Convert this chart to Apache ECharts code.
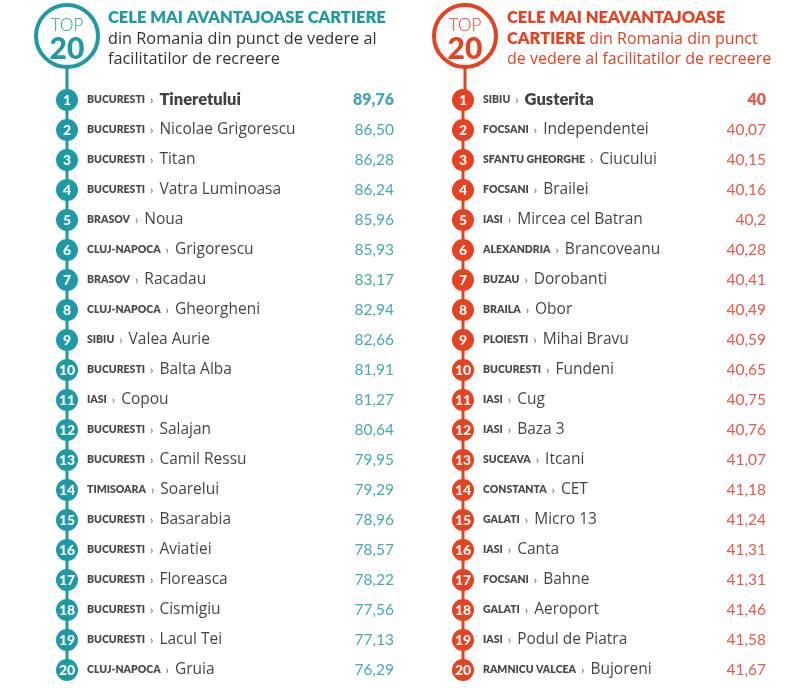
<!DOCTYPE html>
<html><head><meta charset="utf-8">
<script src="https://cdn.jsdelivr.net/npm/echarts@6/dist/echarts.min.js"></script>
<style>html,body{margin:0;padding:0;background:#fff}#c{width:800px;height:690px}</style>
</head><body><div id="c"></div>
<script>
const ranks = ['1','2','3','4','5','6','7','8','9','10','11','12','13','14','15','16','17','18','19','20'];

const leftCities = ['BUCURESTI','BUCURESTI','BUCURESTI','BUCURESTI','BRASOV','CLUJ-NAPOCA','BRASOV','CLUJ-NAPOCA','SIBIU','BUCURESTI','IASI','BUCURESTI','BUCURESTI','TIMISOARA','BUCURESTI','BUCURESTI','BUCURESTI','BUCURESTI','BUCURESTI','CLUJ-NAPOCA'];
const leftNames = ['Tineretului','Nicolae Grigorescu','Titan','Vatra Luminoasa','Noua','Grigorescu','Racadau','Gheorgheni','Valea Aurie','Balta Alba','Copou','Salajan','Camil Ressu','Soarelui','Basarabia','Aviatiei','Floreasca','Cismigiu','Lacul Tei','Gruia'];
const leftValues = [89.76,86.50,86.28,86.24,85.96,85.93,83.17,82.94,82.66,81.91,81.27,80.64,79.95,79.29,78.96,78.57,78.22,77.56,77.13,76.29];

const rightCities = ['SIBIU','FOCSANI','SFANTU GHEORGHE','FOCSANI','IASI','ALEXANDRIA','BUZAU','BRAILA','PLOIESTI','BUCURESTI','IASI','IASI','SUCEAVA','CONSTANTA','GALATI','IASI','FOCSANI','GALATI','IASI','RAMNICU VALCEA'];
const rightNames = ['Gusterita','Independentei','Ciucului','Brailei','Mircea cel Batran','Brancoveanu','Dorobanti','Obor','Mihai Bravu','Fundeni','Cug','Baza 3','Itcani','CET','Micro 13','Canta','Bahne','Aeroport','Podul de Piatra','Bujoreni'];
const rightValues = [40,40.07,40.15,40.16,40.2,40.28,40.41,40.49,40.59,40.65,40.75,40.76,41.07,41.18,41.24,41.31,41.31,41.46,41.58,41.67];

const TEAL = '#1d9aa6', RED = '#e8411f';
const TEALTXT = '#17939f', REDTXT = '#e2301c';
const FONT = 'Lato, "Open Sans", sans-serif';
const FONT2 = '"Open Sans", Lato, sans-serif';

function side(idx, color, txtColor, cities, names, values, fmt) {
  const circ = ranks.map((r, i) => [0, r]);
  const text = ranks.map((r, i) => ({ value: [0, r], city: cities[i], name: names[i], first: i === 0 }));
  const vals = ranks.map((r, i) => ({ value: [1, r], v: values[i], first: i === 0 }));
  return [
    { type: 'line', xAxisIndex: idx, yAxisIndex: idx, data: circ, symbol: 'none', silent: true,
      lineStyle: { color: color, width: 3 }, z: 1 },
    { type: 'scatter', xAxisIndex: idx, yAxisIndex: idx, data: circ, symbol: 'circle', symbolSize: 22,
      itemStyle: { color: color, opacity: 1 }, z: 3,
      label: { show: true, position: 'inside', color: '#fff', fontFamily: FONT, fontWeight: 900, fontSize: 14,
        formatter: p => p.value[1] } },
    { type: 'scatter', xAxisIndex: idx, yAxisIndex: idx, data: text, symbolSize: 0, z: 4,
      label: { show: true, position: 'right', distance: 20, fontFamily: FONT,
        formatter: p => '{c|' + p.data.city + '}{s|\u203A}' + (p.data.first ? '{nb|' : '{n|') + p.data.name + '}',
        rich: {
          c: { fontSize: 10.5, fontWeight: 800, color: '#1a1a1a', fontFamily: FONT },
          s: { fontSize: 12, color: '#333', fontFamily: FONT, padding: [0, 6, 0, 5] },
          n: { fontSize: 15.5, color: '#111', fontFamily: FONT2 },
          nb: { fontSize: 16.5, fontWeight: 800, color: '#111', fontFamily: FONT }
        } } },
    { type: 'scatter', xAxisIndex: idx, yAxisIndex: idx, data: vals, symbolSize: 0, z: 4,
      label: { show: true, position: 'left', distance: 0, fontFamily: FONT,
        formatter: p => (p.data.first ? '{b|' : '{r|') + fmt(p.data.v) + '}',
        rich: {
          r: { fontSize: 15.5, color: txtColor, fontFamily: FONT },
          b: { fontSize: 16, fontWeight: 800, color: txtColor, fontFamily: FONT }
        } } }
  ];
}

const chart = echarts.init(document.getElementById('c'));
const axisY = (gi) => ({ type: 'category', gridIndex: gi, data: ranks, inverse: true, boundaryGap: false, show: false });
const axisX = (gi) => ({ type: 'value', gridIndex: gi, min: 0, max: 1, show: false });

function header(cx, color) {
  return [
    { type: 'circle', shape: { cx: cx, cy: 36, r: 31 }, style: { fill: '#fff', stroke: color, lineWidth: 4 }, z: 10 },
    { type: 'line', shape: { x1: cx, y1: 68, x2: cx, y2: 90 }, style: { stroke: color, lineWidth: 3 }, z: 0 },
    { type: 'text', x: cx, y: 26, style: { text: 'TOP', fill: color, font: '300 17px ' + FONT, align: 'center', verticalAlign: 'middle' }, z: 11 },
    { type: 'text', x: cx, y: 49, style: { text: '20', fill: color, font: '900 30px ' + FONT, align: 'center', verticalAlign: 'middle' }, z: 11 }
  ];
}

chart.setOption({
  animation: false,
  grid: [
    { left: 67, top: 100, width: 327, height: 570 },
    { left: 463, top: 100, width: 303, height: 570 }
  ],
  xAxis: [axisX(0), axisX(1)],
  yAxis: [axisY(0), axisY(1)],
  series: [
    ...side(0, TEAL, TEALTXT, leftCities, leftNames, leftValues, v => v.toFixed(2).replace('.', ',')),
    ...side(1, RED, REDTXT, rightCities, rightNames, rightValues, v => String(v).replace('.', ','))
  ],
  graphic: [
    ...header(67, TEAL),
    ...header(465, RED),
    { type: 'text', x: 108, y: 18, style: { text: 'CELE MAI AVANTAJOASE CARTIERE', fill: TEAL, font: '800 16.5px ' + FONT, verticalAlign: 'middle' } },
    { type: 'text', x: 108, y: 39, style: { text: 'din Romania din punct de vedere al', fill: '#333', font: '16.3px ' + FONT2, verticalAlign: 'middle' } },
    { type: 'text', x: 108, y: 59, style: { text: 'facilitatilor de recreere', fill: '#333', font: '16.3px ' + FONT2, verticalAlign: 'middle' } },
    { type: 'text', x: 507, y: 18, style: { text: 'CELE MAI NEAVANTAJOASE', fill: RED, font: '800 16.5px ' + FONT, verticalAlign: 'middle' } },
    { type: 'text', x: 507, y: 39, style: { text: '{b|CARTIERE}{r| din Romania din punct}', verticalAlign: 'middle',
        rich: { b: { fill: RED, font: '800 16.5px ' + FONT }, r: { fill: RED, font: '16px ' + FONT2 } } } },
    { type: 'text', x: 507, y: 59, style: { text: 'de vedere al facilitatilor de recreere', fill: RED, font: '16px ' + FONT2, verticalAlign: 'middle' } }
  ]
});
</script></body></html>
